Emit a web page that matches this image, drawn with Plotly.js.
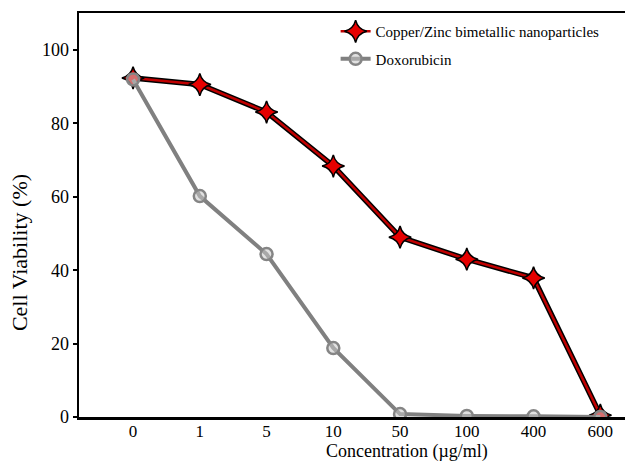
<!DOCTYPE html>
<html>
<head>
<meta charset="utf-8">
<script src="https://cdn.plot.ly/plotly-3.0.1.min.js"></script>
<style>html,body{margin:0;padding:0;background:#fff;}#chart{width:625px;height:463px;}</style>
</head>
<body>
<div id="chart"></div>
<script>
const concentrations = ["0", "1", "5", "10", "50", "100", "400", "600"];
const copperZinc = [92.4, 90.6, 83.1, 68.4, 49.0, 43.0, 37.9, 0.5];
const doxorubicin = [92.0, 60.2, 44.4, 18.8, 0.8, 0.3, 0.2, 0.0];
const seriesNames = ["Copper/Zinc bimetallic nanoparticles", "Doxorubicin"];
const xTitle = "Concentration (µg/ml)";
const yTitle = "Cell Viability (%)";

const serif = "Liberation Serif";

const traces = [
  {
    x: concentrations, y: copperZinc, type: "scatter", mode: "lines",
    line: {color: "#000000", width: 5.5}, showlegend: false, hoverinfo: "skip",
    legendgroup: "a"
  },
  {
    x: concentrations, y: copperZinc, type: "scatter", mode: "lines+markers",
    name: seriesNames[0], legendgroup: "a",
    line: {color: "#c00000", width: 2.5},
    marker: {symbol: "star-diamond", size: 16, color: "#e60000", line: {color: "#000000", width: 1.5}}
  },
  {
    x: concentrations, y: doxorubicin, type: "scatter", mode: "lines+markers",
    name: seriesNames[1], legendgroup: "b",
    line: {color: "#808080", width: 4},
    marker: {symbol: "circle", size: 12, color: "rgba(200,200,200,0.55)", line: {color: "#858585", width: 2.5}}
  }
];

const layout = {
  width: 625, height: 463,
  margin: {l: 79, r: 0, t: 13, b: 46},
  paper_bgcolor: "#ffffff", plot_bgcolor: "#ffffff",
  font: {family: serif, color: "#000000"},
  xaxis: {
    type: "category", range: [-0.81, 7.37],
    showgrid: false, zeroline: false,
    showline: true, linecolor: "#000000", linewidth: 2.5, mirror: true,
    ticks: "", ticklabelstandoff: -3, tickfont: {family: serif, size: 17, color: "#000"}
  },
  yaxis: {
    range: [0, 110.1], tickvals: [0, 20, 40, 60, 80, 100],
    showgrid: false, zeroline: false,
    showline: true, linecolor: "#000000", linewidth: 2.5,
    ticks: "outside", ticklen: 4, tickwidth: 2, tickcolor: "#000",
    tickfont: {family: serif, size: 18, color: "#000"}
  },
  annotations: [
    {text: xTitle, xref: "paper", yref: "paper", x: 0.6, y: -0.113, xanchor: "center", yanchor: "bottom",
     showarrow: false, borderpad: 0, font: {family: serif, size: 18, color: "#000"}},
    {text: yTitle, xref: "paper", yref: "paper", x: -0.11, y: 0.408, xanchor: "center", yanchor: "middle",
     textangle: -90, showarrow: false, font: {family: serif, size: 22, color: "#000"}}
  ],
  legend: {
    x: 0.47, y: 0.995, xanchor: "left", yanchor: "top",
    bgcolor: "rgba(0,0,0,0)", borderwidth: 0,
    font: {family: serif, size: 15, color: "#000"},
    tracegroupgap: 5, itemwidth: 30
  },
  showlegend: true
};

Plotly.newPlot("chart", traces, layout, {displayModeBar: false, staticPlot: true});
</script>
</body>
</html>
